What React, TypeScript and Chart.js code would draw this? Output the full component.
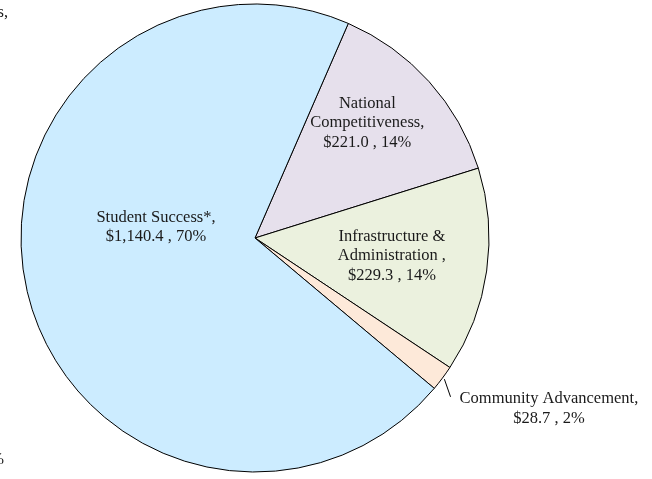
import React, { useEffect, useRef } from "react";
import { Chart, registerables } from "chart.js";

Chart.register(...registerables);

// Slices in clockwise order starting from the top-right boundary
const categories = ["National Competitiveness", "Infrastructure & Administration", "Community Advancement", "Student Success*"];
const amounts = [221.0, 229.3, 28.7, 1140.4];
const percents = ["14%", "14%", "2%", "70%"];
const labelLines = [
  ["National", "Competitiveness,", "$221.0 , 14%"],
  ["Infrastructure &", "Administration ,", "$229.3 , 14%"],
  ["Community Advancement,", "$28.7 , 2%"],
  ["Student Success*,", "$1,140.4 , 70%"],
];
const sliceColors = ["#E6E0EC", "#EBF1DE", "#FDE9D9", "#CCECFF"];
// label centre offsets as fractions of the radius (dx, dy from pie centre)
const labelOffsets = [
  [0.48, -0.492],
  [0.585, 0.077],
  [1.256, 0.729],
  [-0.423, -0.047],
];
const leaderSlices = [2];
// fragments of labels cut off at the left edge of the original image
const edgeFragments = ["s,", "%"];

const FONT = "16.5px 'Liberation Serif', 'Times New Roman', serif";
const LINE_H = 19.5;

const labelPlugin = {
  id: "sliceLabels",
  afterDatasetsDraw(chart: any) {
    const ctx = chart.ctx;
    const meta = chart.getDatasetMeta(0);
    ctx.save();
    ctx.font = FONT;
    ctx.fillStyle = "#1a1a1a";
    ctx.textAlign = "center";
    ctx.textBaseline = "middle";
    meta.data.forEach((arc: any, i: number) => {
      const { x, y, outerRadius, startAngle, endAngle } = arc.getProps(["x", "y", "outerRadius", "startAngle", "endAngle"], true);
      const lx = x + labelOffsets[i][0] * outerRadius;
      const ly = y + labelOffsets[i][1] * outerRadius;
      const lines = labelLines[i];
      const top = ly - ((lines.length - 1) * LINE_H) / 2;
      lines.forEach((t, k) => ctx.fillText(t, lx, top + k * LINE_H));
      if (leaderSlices.includes(i)) {
        const mid = (startAngle + endAngle) / 2;
        const sx = x + Math.cos(mid) * outerRadius;
        const sy = y + Math.sin(mid) * outerRadius;
        const w = Math.max(...lines.map((t) => ctx.measureText(t).width));
        const ex = lx - w / 2 - 9;
        const ey = top - 2;
        ctx.beginPath();
        ctx.strokeStyle = "#000";
        ctx.lineWidth = 1;
        ctx.moveTo(sx + 2, sy + 1);
        ctx.lineTo(ex, ey);
        ctx.stroke();
      }
    });
    // cut-off fragments at the left edge
    ctx.textAlign = "right";
    ctx.fillText(edgeFragments[0], 8, 13);
    ctx.fillText(edgeFragments[1], 4, 460);
    ctx.restore();
  },
};

export default function App() {
  const ref = useRef<HTMLCanvasElement>(null);
  useEffect(() => {
    if (!ref.current) return;
    const chart = new Chart(ref.current, {
      type: "pie",
      data: {
        labels: categories,
        datasets: [
          {
            data: amounts,
            backgroundColor: sliceColors,
            borderColor: "#000",
            borderWidth: 1,
          },
        ],
      },
      options: {
        responsive: false,
        animation: false,
        rotation: 23.5,
        layout: { padding: { top: 3.5, bottom: 6.5, left: 20.5, right: 162.5 } },
        plugins: {
          legend: { display: false },
          tooltip: { enabled: false },
        },
      },
      plugins: [labelPlugin],
    });
    return () => chart.destroy();
  }, []);
  return (
    <div style={{ position: "fixed", left: 0, top: 0, width: 652, height: 479, background: "#fff" }}>
      <canvas ref={ref} width={652} height={479} style={{ width: 652, height: 479 }} />
    </div>
  );
}
